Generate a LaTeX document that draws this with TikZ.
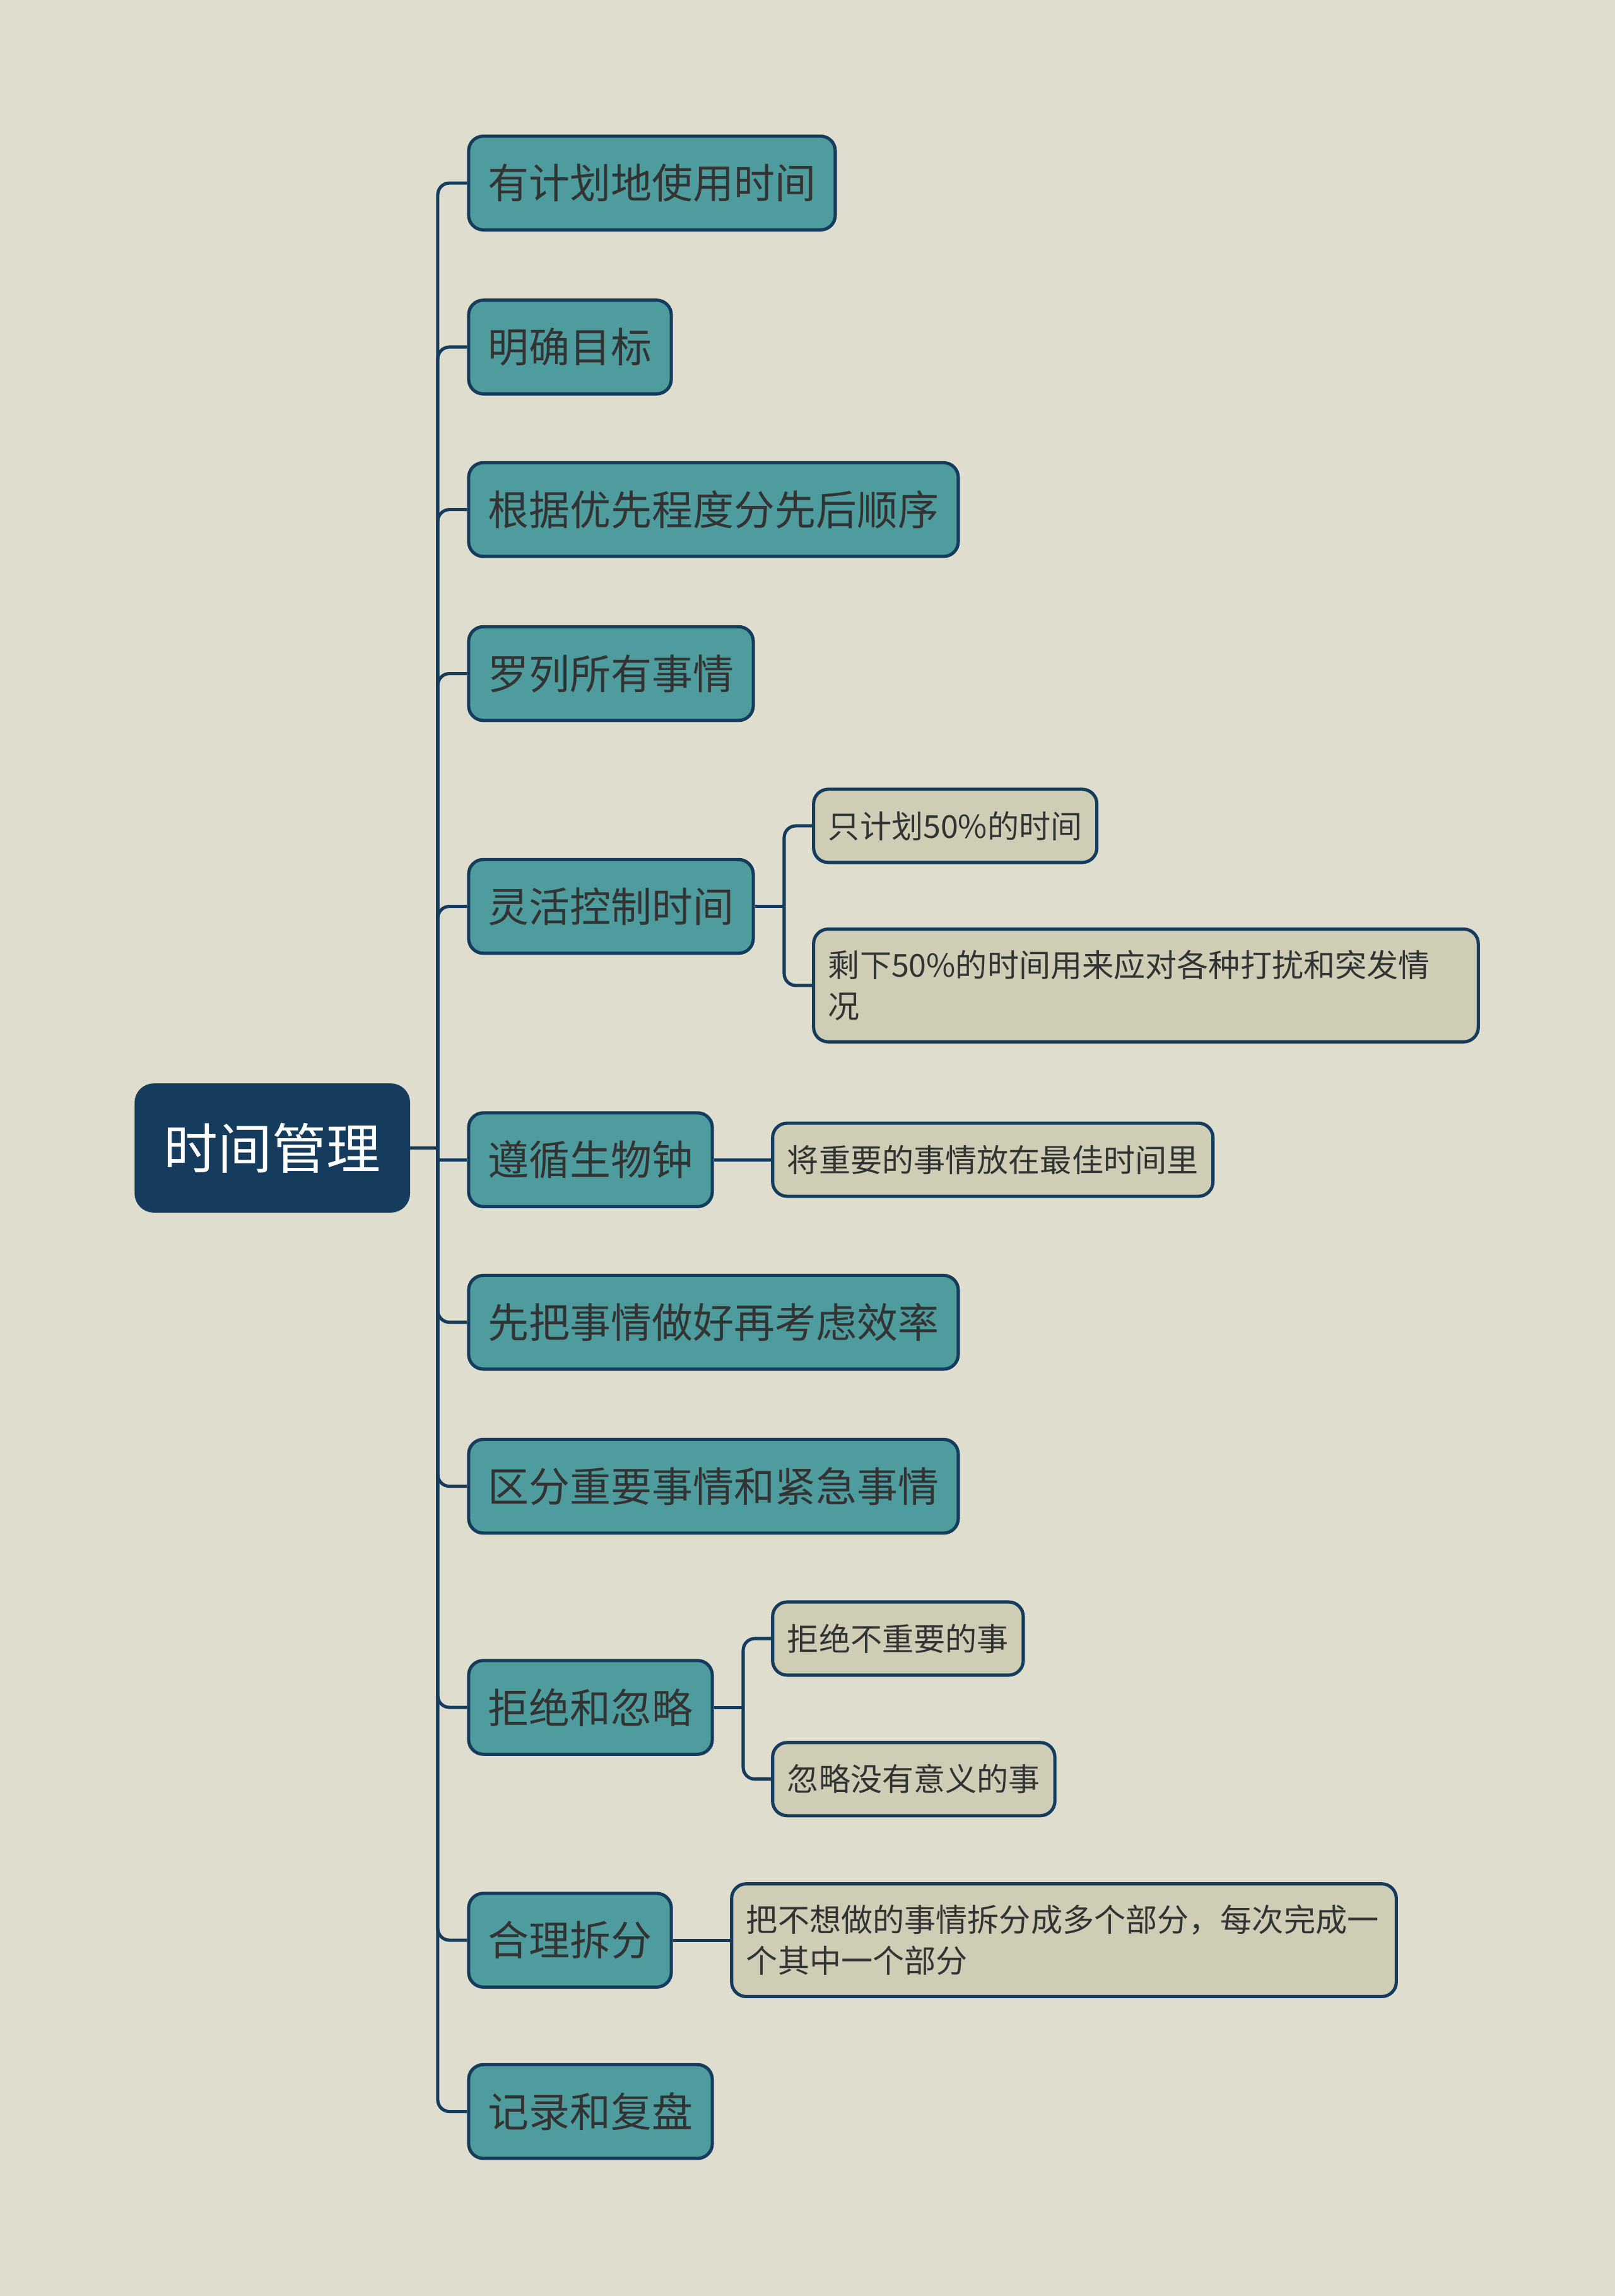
\documentclass[tikz,border=0pt]{standalone}
\usepackage{fontspec}
\setmainfont{Noto Sans CJK SC}
\usetikzlibrary{positioning}
\definecolor{bgcol}{HTML}{DEDDCE}
\definecolor{navy}{HTML}{153C5C}
\definecolor{tealbox}{HTML}{4E9C9D}
\definecolor{sand}{HTML}{CFCDB6}
\definecolor{ink}{HTML}{333333}
\tikzset{
mind map/.style={line width=1.1pt}, % all lines this wide
root node/.style={draw=navy,fill=navy,text=white,rounded corners=6pt,minimum height=43pt,inner xsep=9.5pt,font=\fontsize{18.5pt}{22pt}\selectfont},
topic/.style={draw=navy,fill=tealbox,text=ink,rounded corners=5pt,minimum height=32pt,inner xsep=6.6pt,font=\fontsize{14pt}{17pt}\selectfont,anchor=west},
leaf/.style={draw=navy,fill=sand,text=ink,rounded corners=5pt,minimum height=25pt,inner xsep=5pt,font=\fontsize{10.8pt}{14pt}\selectfont},
long leaf/.style={leaf,minimum height=38.5pt,text width=217pt,align=left},
link/.style={draw=navy,rounded corners=4pt},
}
\begin{document}
\begin{tikzpicture}[x=0.5pt,y=-0.5pt,mind map]
\useasboundingbox (0,0) rectangle (1103,1568);
\fill[bgcol] (0,0) rectangle (1103,1568);

\node[root node] (root) at (186,784) {时间管理};
\coordinate (jn) at (299,784);

\node[topic] (plan)   at (319,125)  {有计划地使用时间};
\node[topic] (goal)   at (319,237)  {明确目标};
\node[topic] (prio)   at (319,348)  {根据优先程度分先后顺序};
\node[topic] (list)   at (319,460)  {罗列所有事情};
\node[topic] (flex)   at (319,619)  {灵活控制时间};
\node[topic] (bio)    at (319,792)  {遵循生物钟};
\node[topic] (first)  at (319,903)  {先把事情做好再考虑效率};
\node[topic] (urgent) at (319,1015) {区分重要事情和紧急事情};
\node[topic] (refuse) at (319,1166) {拒绝和忽略};
\node[topic] (split)  at (319,1325) {合理拆分};
\node[topic] (review) at (319,1442) {记录和复盘};

\node[leaf,right=19.5pt of flex.east,yshift=27.5pt]   (half)   {只计划50\%的时间};
\node[long leaf,right=19.5pt of flex.east,yshift=-27pt] (rest) {剩下50\%的时间用来应对各种打扰和突发情\\况};
\node[leaf,right=19.5pt of bio]                       (best)   {将重要的事情放在最佳时间里};
\node[leaf,right=19.5pt of refuse.east,yshift=23.5pt] (noimp)  {拒绝不重要的事};
\node[leaf,right=19.5pt of refuse.east,yshift=-24.5pt] (nomean) {忽略没有意义的事};
\node[long leaf,right=19.5pt of split]                (parts)  {把不想做的事情拆分成多个部分，每次完成一\\个其中一个部分};

\draw[navy] (root.east) -- (jn);
\foreach \b in {plan,goal,prio,list,flex,first,urgent,refuse,split,review}
  \draw[link] (jn) |- (\b.west);
\draw[navy] (jn) |- (bio.west);

\draw[navy] (flex.east) -- ++(10pt,0) coordinate (flexfork);
\foreach \b in {half,rest}
  \draw[link] (flexfork) |- (\b.west);
\draw[navy] (bio.east) -- (best.west);
\draw[navy] (refuse.east) -- ++(10pt,0) coordinate (refusefork);
\foreach \b in {noimp,nomean}
  \draw[link] (refusefork) |- (\b.west);
\draw[navy] (split.east) -- (parts.west);
\end{tikzpicture}
\end{document}
